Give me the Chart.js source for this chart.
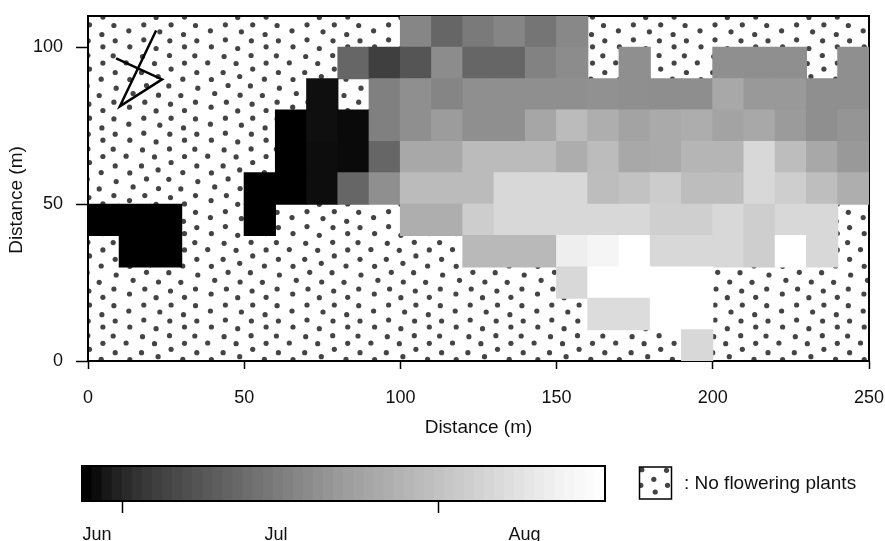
<!DOCTYPE html>
<html>
<head>
<meta charset="utf-8">
<script src="https://cdn.jsdelivr.net/npm/chart.js@4/dist/chart.umd.min.js"></script>
<style>
  html, body { margin: 0; padding: 0; background: #fff; }
  canvas { position: absolute; left: 0; }
  #map { top: 0; }
  #key { top: 440px; }
</style>
</head>
<body>
<canvas id="map" width="885" height="440"></canvas>
<canvas id="key" width="885" height="101"></canvas>
<script>
const _ = null
// grey level of each 10 m cell, one list per row, west to east (null = no flowering plants)
const row100 = [_,_,_,_,_,_,_,_,_,_,134,102,122,133,117,136,_,_,_,_,_,_,_,_,_]
const row90 = [_,_,_,_,_,_,_,_,102,63,85,140,102,102,130,140,_,143,_,_,143,143,143,_,143]
const row80 = [_,_,_,_,_,_,_,15,_,128,143,133,143,143,143,143,145,143,142,142,168,153,153,143,143]
const row70 = [_,_,_,_,_,_,0,15,10,128,143,156,143,143,166,187,174,163,170,173,163,168,155,143,149]
const row60 = [_,_,_,_,_,_,0,13,10,102,168,168,187,187,187,173,188,168,170,181,181,216,189,168,153]
const row50 = [_,_,_,_,_,0,0,13,102,143,187,187,187,216,216,216,189,194,204,189,189,216,206,190,174]
const row40 = [0,0,0,_,_,0,_,_,_,_,174,174,205,216,216,216,216,216,207,207,216,206,216,216,_]
const row30 = [_,0,0,_,_,_,_,_,_,_,_,_,185,185,185,238,245,255,216,216,216,206,255,216,_]
const row20 = [_,_,_,_,_,_,_,_,_,_,_,_,_,_,_,216,255,255,255,255,_,_,_,_,_]
const row10 = [_,_,_,_,_,_,_,_,_,_,_,_,_,_,_,_,220,220,255,255,_,_,_,_,_]
const row0 = [_,_,_,_,_,_,_,_,_,_,_,_,_,_,_,_,_,_,_,216,_,_,_,_,_]
const rows = [row0, row10, row20, row30, row40, row50, row60, row70, row80, row90, row100]

// the thin black movement track, in metres
const trackX = [21.8, 10.2, 23.7, 9]
const trackY = [105.4, 81.2, 89.8, 96.5]

// colour key
const keySteps = [0,12,24,34,42,50,57,63,68,74,79,84,89,94,99,104,109,114,119,124,129,134,139,144,149,154,158,162,166,170,174,178,182,186,190,194,198,202,206,210,214,218,222,226,230,234,238,242,245,248,251,254]
const keyTicks = [4, 35.4]
const monthNames = ['Jun', 'Jul', 'Aug']
const monthPositions = [1.5, 19.3, 44.0]

const FONT = { family: '"Liberation Sans", Arial, sans-serif', size: 18 }
const TITLE_FONT = { family: FONT.family, size: 19 }
const DOT = '#444444'

// one tile of the dot texture, px from the tile corner
const TILE_W = 81.6
const TILE_H = 93.4
const tileDots = [[5,4.3],[33.3,1.3],[58,4],[21.7,10.3],[44,10.7],[73,13],[8.3,18.3],[33.7,20],[56,20.3],[20,27],[45.7,29],[70.7,27],[4.7,32],[31.3,35.7],[59.7,35.3],[19,43],[46.3,43],[70.7,43.7],[4,49],[35,50],[58.7,52.7],[19,58],[45,59],[72,59],[5,65],[31.3,66.7],[59.7,65],[17.7,74.7],[44.7,73.7],[70,74],[1.3,81],[29.7,81.7],[59.7,81.3],[16.7,90.7],[46.3,87.3],[72,90.7]]

function grey(v) { return `rgb(${v},${v},${v})` }

// white background with dots, then frame. bars are painted on top of it
const texturePlugin = {
  id: 'texture',
  beforeDatasetsDraw(chart) {
    const { ctx, chartArea: a } = chart
    ctx.save()
    ctx.beginPath()
    ctx.rect(a.left, a.top, a.right - a.left, a.bottom - a.top)
    ctx.clip()
    ctx.fillStyle = DOT
    for (let ox = 288 - TILE_W * 3; ox < a.right; ox += TILE_W) {
      for (let oy = 262 - TILE_H * 3; oy < a.bottom; oy += TILE_H) {
        tileDots.forEach(d => {
          ctx.beginPath()
          ctx.arc(ox + d[0], oy + d[1], 2.6, 0, Math.PI * 2)
          ctx.fill()
        })
      }
    }
    ctx.restore()
    ctx.save()
    ctx.strokeStyle = '#000'
    ctx.lineWidth = 2
    ctx.strokeRect(a.left, a.top, a.right - a.left, a.bottom - a.top)
    ctx.restore()
  },
  // y title sits a bit below the middle of the axis in the original, so it is placed by hand
  afterDraw(chart) {
    const { ctx } = chart
    ctx.save()
    ctx.translate(17, 200)
    ctx.rotate(-Math.PI / 2)
    ctx.fillStyle = '#111'
    ctx.font = `${TITLE_FONT.size}px ${FONT.family}`
    ctx.textAlign = 'center'
    ctx.textBaseline = 'middle'
    ctx.fillText('Distance (m)', 0, 0)
    ctx.restore()
  }
}

const cellSets = rows.map((row, r) => {
  const cols = row.map((v, c) => c).filter(c => row[c] !== null)
  return {
    type: 'bar',
    order: 1,
    data: cols.map(c => ({ x: c * 10 + 5, y: [r * 10, r * 10 + 10] })),
    backgroundColor: cols.map(c => grey(row[c])),
    borderWidth: 0,
    inflateAmount: 0.5,
    barPercentage: 1,
    categoryPercentage: 1,
    grouped: false
  }
})

new Chart(document.getElementById('map'), {
  data: {
    datasets: [
      ...cellSets,
      {
        type: 'line',
        order: 0,
        data: trackX.map((x, i) => ({ x, y: trackY[i] })),
        borderColor: '#000',
        borderWidth: 2.5,
        pointRadius: 0,
        tension: 0,
        fill: false
      }
    ]
  },
  options: {
    responsive: false,
    animation: false,
    layout: { padding: { top: 16, right: 16, left: 0, bottom: 0 } },
    plugins: { legend: { display: false }, tooltip: { enabled: false } },
    scales: {
      x: {
        type: 'linear',
        min: 0,
        max: 250,
        offset: false,
        afterFit: s => { s.height = 79; s.paddingLeft = 0; s.paddingRight = 0 },
        grid: { offset: false, drawOnChartArea: false, tickLength: 8, tickColor: '#000', tickWidth: 1.5 },
        border: { display: false },
        ticks: { stepSize: 50, color: '#111', font: FONT, padding: 18, maxRotation: 0, autoSkip: false },
        title: { display: true, text: 'Distance (m)', color: '#111', font: TITLE_FONT, padding: { top: 0, bottom: 1 } }
      },
      y: {
        type: 'linear',
        min: 0,
        max: 110,
        afterFit: s => { s.width = 88; s.paddingTop = 0; s.paddingBottom = 0 },
        grid: { drawOnChartArea: false, tickLength: 12, tickColor: '#000', tickWidth: 1.5 },
        border: { display: false },
        ticks: { stepSize: 50, includeBounds: false, color: '#111', font: FONT, padding: 13 }
      }
    }
  },
  plugins: [texturePlugin]
})

// frame of the key plus the little "no flowering" swatch
const swatchDots = [[2.3,2.7],[27,3.3],[14.3,12.3],[1.3,18.3],[28,18.3],[15.7,25]]
const keyFrame = {
  id: 'keyFrame',
  afterDraw(chart) {
    const { ctx, chartArea: a } = chart
    ctx.save()
    ctx.strokeStyle = '#000'
    ctx.lineWidth = 2
    ctx.strokeRect(a.left, a.top, a.right - a.left, a.bottom - a.top)

    const sx = 639.5, sy = 27, sw = 32, sh = 32
    ctx.save()
    ctx.beginPath()
    ctx.rect(sx, sy, sw, sh)
    ctx.clip()
    ctx.fillStyle = DOT
    swatchDots.forEach(d => {
      ctx.beginPath()
      ctx.arc(sx + d[0], sy + d[1], 2.6, 0, Math.PI * 2)
      ctx.fill()
    })
    ctx.restore()
    ctx.lineWidth = 1.5
    ctx.strokeRect(sx, sy, sw, sh)

    ctx.fillStyle = '#111'
    ctx.font = `${TITLE_FONT.size}px ${FONT.family}`
    ctx.textBaseline = 'middle'
    ctx.fillText(': No flowering plants', 684, 44)
    ctx.restore()
  }
}

new Chart(document.getElementById('key'), {
  data: {
    datasets: [{
      type: 'bar',
      data: keySteps.map((v, i) => ({ x: i + 0.5, y: 1 })),
      backgroundColor: keySteps.map(grey),
      borderWidth: 0,
      inflateAmount: 0.5,
      barPercentage: 1,
      categoryPercentage: 1
    }]
  },
  options: {
    responsive: false,
    animation: false,
    layout: { padding: { top: 26, right: 280, left: 82, bottom: 0 } },
    plugins: { legend: { display: false }, tooltip: { enabled: false } },
    scales: {
      x: {
        type: 'linear',
        position: 'bottom',
        min: 0,
        max: keySteps.length,
        offset: false,
        afterBuildTicks: s => { s.ticks = keyTicks.map(value => ({ value })) },
        afterFit: s => { s.height = 12; s.paddingLeft = 0; s.paddingRight = 0 },
        grid: { offset: false, drawOnChartArea: false, tickLength: 12, tickColor: '#000', tickWidth: 1.5 },
        border: { display: false },
        ticks: { display: false }
      },
      months: {
        type: 'linear',
        axis: 'x',
        position: 'bottom',
        min: 0,
        max: keySteps.length,
        offset: false,
        afterBuildTicks: s => { s.ticks = monthPositions.map(value => ({ value })) },
        afterFit: s => { s.height = 28; s.paddingLeft = 0; s.paddingRight = 0 },
        grid: { display: false, drawTicks: false },
        border: { display: false },
        ticks: {
          color: '#111',
          font: FONT,
          padding: 11,
          maxRotation: 0,
          autoSkip: false,
          callback: v => monthNames[monthPositions.indexOf(v)]
        }
      },
      y: { display: false, min: 0, max: 1 }
    }
  },
  plugins: [keyFrame]
})
</script>
</body>
</html>
